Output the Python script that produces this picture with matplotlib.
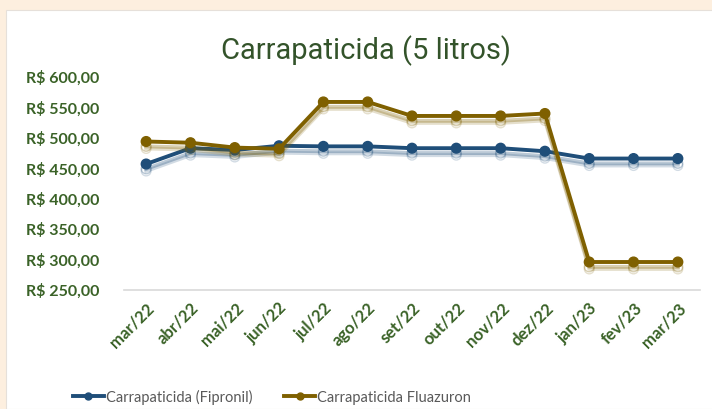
import matplotlib.pyplot as plt
import matplotlib.patheffects as pe
from matplotlib.patches import Rectangle
from matplotlib.lines import Line2D
from matplotlib.ticker import FuncFormatter

meses = ["mar/22", "abr/22", "mai/22", "jun/22", "jul/22", "ago/22", "set/22",
         "out/22", "nov/22", "dez/22", "jan/23", "fev/23", "mar/23"]
fipronil = [457, 483, 480, 487, 486, 486, 483, 483, 483, 478, 466, 466, 466]
fluazuron = [494, 492, 484, 482, 559, 559, 536, 536, 536, 540, 296, 296, 296]
nomes = ["Carrapaticida (Fipronil)", "Carrapaticida Fluazuron"]

verde = "#3a6227"
azul = "#1f4e79"
ouro = "#7f6000"

fig = plt.figure(figsize=(7.12, 4.09), dpi=100)
fig.patch.set_facecolor("#fdefdf")
fig.patches.append(Rectangle((6 / 712, 0), 1, 1 - 10 / 409, transform=fig.transFigure,
                             facecolor="white", edgecolor="#e6e0da", lw=0.8, zorder=-5))

ax = fig.add_axes([124 / 712, 1 - 290 / 409, 576 / 712, 213 / 409])
ax.set_zorder(2)
ax.set_facecolor("none")

x = list(range(len(meses)))
handles = []
for vals, cor, nome in [(fipronil, azul, nomes[0]), (fluazuron, ouro, nomes[1])]:
    ax.plot(x, vals, color=cor, lw=2.8, marker="o", ms=7,
            path_effects=[pe.SimpleLineShadow(offset=(0, -5), shadow_color=cor, alpha=0.2),
                          pe.SimpleLineShadow(offset=(0, -3.5), shadow_color=cor, alpha=0.3),
                          pe.Normal()])
    handles.append(Line2D([], [], color=cor, lw=2.8, marker="o", ms=5, label=nome))

ax.set_xlim(-0.5, len(meses) - 0.5)
ax.set_ylim(250, 600)
ax.set_yticks(range(250, 601, 50))
ax.yaxis.set_major_formatter(FuncFormatter(lambda v, p: "R$ {:.2f}".format(v).replace(".", ",")))
ax.set_xticks(x)
ax.set_xticklabels(meses, rotation=45, ha="right", rotation_mode="anchor")
ax.tick_params(length=0, labelcolor=verde)
ax.tick_params(axis="x", labelsize=12, pad=7)
ax.tick_params(axis="y", labelsize=11.5, pad=18)
for lab in ax.get_xticklabels() + ax.get_yticklabels():
    lab.set_fontfamily("Lato")
    lab.set_fontweight("bold")
for s in ["top", "right", "left"]:
    ax.spines[s].set_visible(False)
ax.spines["bottom"].set_color("#d9d9d9")
ax.spines["bottom"].set_linewidth(1.2)

fig.text(366 / 712, 1 - 51 / 409, "Carrapaticida (5 litros)", ha="center", va="center",
         fontsize=21, color="#33532a", family="Roboto")

leg = fig.legend(handles=handles, loc="center", bbox_to_anchor=(272 / 712, 1 - 397 / 409),
                 ncol=2, frameon=False, prop={"family": "Lato", "size": 10.5},
                 handlelength=2.1, columnspacing=2.2, handletextpad=0.15)
for t in leg.get_texts():
    t.set_color("#595959")

fig.savefig("out.png", dpi=100, facecolor=fig.get_facecolor())
